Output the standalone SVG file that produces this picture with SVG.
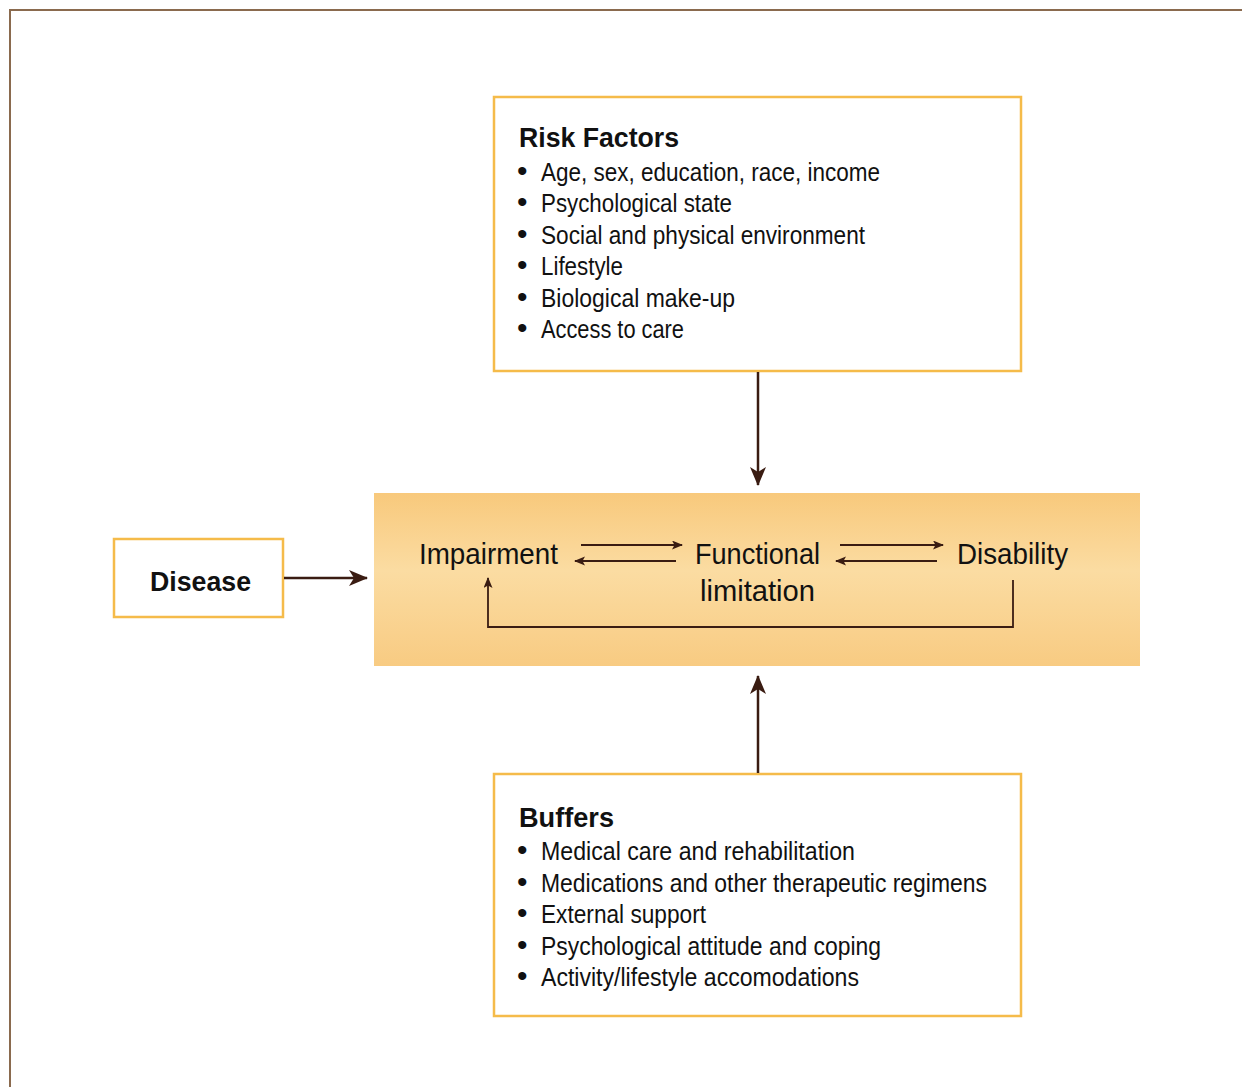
<svg xmlns="http://www.w3.org/2000/svg" width="1242" height="1087" viewBox="0 0 1242 1087">
  <style>
    .box { fill: #ffffff; stroke: #f5bb4a; stroke-width: 2.5; }
    .title { font-family: "Liberation Sans", Arial, sans-serif; font-weight: bold; font-size: 28px; fill: #111111; }
    .item { font-family: "Liberation Sans", Arial, sans-serif; font-size: 26px; fill: #111111; }
    .bul { font-family: "Liberation Sans", Arial, sans-serif; font-size: 30px; fill: #111111; }
    .lbl { font-family: "Liberation Sans", Arial, sans-serif; font-size: 30px; fill: #111111; }
    .conn { fill: none; stroke: #3a1c12; }
    .big { stroke-width: 2.5; }
    .small { stroke-width: 1.8; }
  </style>
  <defs>
    <linearGradient id="band" x1="0" y1="0" x2="0" y2="1">
      <stop offset="0" stop-color="#f8c97c"/>
      <stop offset="0.45" stop-color="#fbdca2"/>
      <stop offset="1" stop-color="#f8cb82"/>
    </linearGradient>
    <marker id="bigHead" markerUnits="userSpaceOnUse" markerWidth="20" markerHeight="18" refX="18" refY="8" orient="auto">
      <path d="M0,0 L19,8 L0,16 L5,8 z" fill="#3a1c12"/>
    </marker>
    <marker id="smallHead" markerUnits="userSpaceOnUse" markerWidth="12" markerHeight="10" refX="10" refY="4.5" orient="auto">
      <path d="M0,0 L11,4.5 L0,9 L2.5,4.5 z" fill="#3a1c12"/>
    </marker>
  </defs>

  <rect width="1242" height="1087" fill="#ffffff"/>
  <!-- outer frame -->
  <path d="M10,1087 L10,10 L1242,10" fill="none" stroke="#8a6a4e" stroke-width="2"/>

  <g id="center-band">
    <rect x="374" y="493" width="766" height="173" fill="url(#band)"/>
  </g>

  <g id="risk-factors">
    <rect class="box" x="494" y="97" width="527" height="274"/>
    <text class="title" x="519" y="147" textLength="160" lengthAdjust="spacingAndGlyphs">Risk Factors</text>
    <text class="bul" x="517" y="181">•</text>
    <text class="item" x="541" y="181" textLength="339" lengthAdjust="spacingAndGlyphs">Age, sex, education, race, income</text>
    <text class="bul" x="517" y="212">•</text>
    <text class="item" x="541" y="212" textLength="191" lengthAdjust="spacingAndGlyphs">Psychological state</text>
    <text class="bul" x="517" y="244">•</text>
    <text class="item" x="541" y="244" textLength="324" lengthAdjust="spacingAndGlyphs">Social and physical environment</text>
    <text class="bul" x="517" y="275">•</text>
    <text class="item" x="541" y="275" textLength="82" lengthAdjust="spacingAndGlyphs">Lifestyle</text>
    <text class="bul" x="517" y="307">•</text>
    <text class="item" x="541" y="307" textLength="194" lengthAdjust="spacingAndGlyphs">Biological make-up</text>
    <text class="bul" x="517" y="338">•</text>
    <text class="item" x="541" y="338" textLength="143" lengthAdjust="spacingAndGlyphs">Access to care</text>
  </g>

  <g id="disease">
    <rect class="box" x="114" y="539" width="169" height="78"/>
    <text class="title" x="150" y="591" textLength="101" lengthAdjust="spacingAndGlyphs">Disease</text>
  </g>

  <g id="impairment">
    <text class="lbl" x="419" y="564" textLength="139" lengthAdjust="spacingAndGlyphs">Impairment</text>
  </g>
  <g id="functional-limitation">
    <text class="lbl" x="695" y="564" textLength="125" lengthAdjust="spacingAndGlyphs">Functional</text>
    <text class="lbl" x="700" y="601" textLength="115" lengthAdjust="spacingAndGlyphs">limitation</text>
  </g>
  <g id="disability">
    <text class="lbl" x="957" y="564" textLength="111" lengthAdjust="spacingAndGlyphs">Disability</text>
  </g>

  <g id="buffers">
    <rect class="box" x="494" y="774" width="527" height="242"/>
    <text class="title" x="519" y="827" textLength="95" lengthAdjust="spacingAndGlyphs">Buffers</text>
    <text class="bul" x="517" y="860">•</text>
    <text class="item" x="541" y="860" textLength="314" lengthAdjust="spacingAndGlyphs">Medical care and rehabilitation</text>
    <text class="bul" x="517" y="892">•</text>
    <text class="item" x="541" y="892" textLength="446" lengthAdjust="spacingAndGlyphs">Medications and other therapeutic regimens</text>
    <text class="bul" x="517" y="923">•</text>
    <text class="item" x="541" y="923" textLength="165" lengthAdjust="spacingAndGlyphs">External support</text>
    <text class="bul" x="517" y="955">•</text>
    <text class="item" x="541" y="955" textLength="340" lengthAdjust="spacingAndGlyphs">Psychological attitude and coping</text>
    <text class="bul" x="517" y="986">•</text>
    <text class="item" x="541" y="986" textLength="318" lengthAdjust="spacingAndGlyphs">Activity/lifestyle accomodations</text>
  </g>

  <g id="connectors">
    <line class="conn big" x1="758" y1="372" x2="758" y2="485" marker-end="url(#bigHead)"/>
    <line class="conn big" x1="758" y1="773" x2="758" y2="676" marker-end="url(#bigHead)"/>
    <line class="conn big" x1="284" y1="578" x2="367" y2="578" marker-end="url(#bigHead)"/>
    <line class="conn small" x1="581" y1="545" x2="682" y2="545" marker-end="url(#smallHead)"/>
    <line class="conn small" x1="676" y1="561" x2="575" y2="561" marker-end="url(#smallHead)"/>
    <line class="conn small" x1="840" y1="545" x2="943" y2="545" marker-end="url(#smallHead)"/>
    <line class="conn small" x1="937" y1="561" x2="836" y2="561" marker-end="url(#smallHead)"/>
    <path class="conn small" d="M1013,580 L1013,627 L488,627 L488,578" marker-end="url(#smallHead)"/>
  </g>
</svg>
